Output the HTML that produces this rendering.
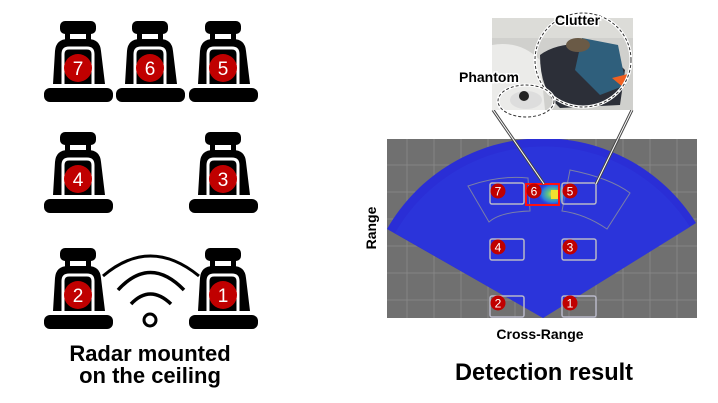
<!DOCTYPE html>
<html><head><meta charset="utf-8"><style>
html,body{margin:0;padding:0;background:#fff;}
svg{display:block;}
text{font-family:"Liberation Sans",sans-serif;font-weight:bold;}
</style></head><body>
<svg width="718" height="403" viewBox="0 0 718 403" xmlns="http://www.w3.org/2000/svg">
<defs>
<g id="seat">
  <rect x="-18" y="0" width="36" height="13" rx="5" fill="#000"/>
  <rect x="-13" y="12" width="5" height="8" fill="#000"/>
  <rect x="8" y="12" width="5" height="8" fill="#000"/>
  <path d="M-21,63 L-25,63 L-23,30 Q-22,18 -10,18 L10,18 Q22,18 23,30 L27,63 Z" fill="#000"/>
  <path d="M-15,63 L-15,33 Q-15,27 -9,27 L9,27 Q15,27 15,33 L15,63" fill="none" stroke="#fff" stroke-width="3"/>
  <rect x="-34" y="67" width="69" height="14" rx="6" fill="#000"/>
</g>
<clipPath id="pc"><rect x="387" y="139" width="310" height="179"/></clipPath>
<radialGradient id="hot" cx="0.5" cy="0.5" r="0.5">
  <stop offset="0" stop-color="#f4e02a"/><stop offset="0.35" stop-color="#5ac08a"/><stop offset="0.7" stop-color="#2a7ae0"/><stop offset="1" stop-color="#2a3ae0" stop-opacity="0"/>
</radialGradient>
</defs>

<g transform="translate(78,21)"><use href="#seat"/><circle cx="0" cy="47" r="14" fill="#c00000"/><text x="0" y="54" font-size="19" fill="#fff" text-anchor="middle" style="font-weight:normal">7</text></g>
<g transform="translate(150,21)"><use href="#seat"/><circle cx="0" cy="47" r="14" fill="#c00000"/><text x="0" y="54" font-size="19" fill="#fff" text-anchor="middle" style="font-weight:normal">6</text></g>
<g transform="translate(223,21)"><use href="#seat"/><circle cx="0" cy="47" r="14" fill="#c00000"/><text x="0" y="54" font-size="19" fill="#fff" text-anchor="middle" style="font-weight:normal">5</text></g>
<g transform="translate(78,132)"><use href="#seat"/><circle cx="0" cy="47" r="14" fill="#c00000"/><text x="0" y="54" font-size="19" fill="#fff" text-anchor="middle" style="font-weight:normal">4</text></g>
<g transform="translate(223,132)"><use href="#seat"/><circle cx="0" cy="47" r="14" fill="#c00000"/><text x="0" y="54" font-size="19" fill="#fff" text-anchor="middle" style="font-weight:normal">3</text></g>
<g transform="translate(78,248)"><use href="#seat"/><circle cx="0" cy="47" r="14" fill="#c00000"/><text x="0" y="54" font-size="19" fill="#fff" text-anchor="middle" style="font-weight:normal">2</text></g>
<g transform="translate(223,248)"><use href="#seat"/><circle cx="0" cy="47" r="14" fill="#c00000"/><text x="0" y="54" font-size="19" fill="#fff" text-anchor="middle" style="font-weight:normal">1</text></g>

<path d="M103,276 Q150,236 199,276" fill="none" stroke="#000" stroke-width="3"/>
<path d="M118,290 Q150,255 184,290" fill="none" stroke="#000" stroke-width="3.5"/>
<path d="M131,304 Q150,284 171,304" fill="none" stroke="#000" stroke-width="3.5"/>
<circle cx="150" cy="320" r="6" fill="none" stroke="#000" stroke-width="3"/>
<text x="150" y="361" font-size="22" text-anchor="middle" fill="#000">Radar mounted</text>
<text x="150" y="383" font-size="22" text-anchor="middle" fill="#000">on the ceiling</text>

<rect x="387" y="139" width="310" height="179" fill="#707070"/>
<g stroke="#8a8a8a" stroke-width="0.8">
  <line x1="407" y1="139" x2="407" y2="318"/><line x1="434" y1="139" x2="434" y2="318"/><line x1="461" y1="139" x2="461" y2="318"/><line x1="488" y1="139" x2="488" y2="318"/><line x1="515" y1="139" x2="515" y2="318"/><line x1="542" y1="139" x2="542" y2="318"/><line x1="569" y1="139" x2="569" y2="318"/><line x1="596" y1="139" x2="596" y2="318"/><line x1="623" y1="139" x2="623" y2="318"/><line x1="650" y1="139" x2="650" y2="318"/><line x1="677" y1="139" x2="677" y2="318"/>
  <line x1="387" y1="165" x2="697" y2="165"/><line x1="387" y1="192" x2="697" y2="192"/><line x1="387" y1="219" x2="697" y2="219"/><line x1="387" y1="246" x2="697" y2="246"/><line x1="387" y1="273" x2="697" y2="273"/><line x1="387" y1="300" x2="697" y2="300"/>
</g>
<g clip-path="url(#pc)">
<path d="M543,318 L387,229 A180,180 0 0 1 696,223 Z" fill="#2a2ed6"/>
<path d="M543,318 L395,233 A172,172 0 0 1 690,227 Z" fill="#2d38dc" opacity="0.6"/>
</g>
<path d="M468,186 Q500,175 528,178 L530,211 Q500,212 489,222 Z" fill="none" stroke="#7a7fa8" stroke-width="1"/>
<path d="M570,170 Q610,178 630,193 L607,229 Q585,214 562,211 Z" fill="none" stroke="#7a7fa8" stroke-width="1"/>
<ellipse cx="553" cy="194" rx="16" ry="12" fill="url(#hot)"/>
<rect x="551" y="190" width="8" height="9" fill="#f0e030"/>
<g fill="none" stroke="#b8b8c8" stroke-width="1.5">
  <rect x="490" y="183" width="34" height="21" rx="2"/>
  <rect x="562" y="183" width="34" height="21" rx="2"/>
  <rect x="490" y="239" width="34" height="21" rx="2"/>
  <rect x="562" y="239" width="34" height="21" rx="2"/>
  <rect x="490" y="296" width="34" height="21" rx="2"/>
  <rect x="562" y="296" width="34" height="21" rx="2"/>
</g>
<rect x="526" y="184" width="33" height="21" fill="none" stroke="#ff1010" stroke-width="2"/>
<g font-size="12" fill="#fff" text-anchor="middle">
<circle cx="498" cy="191" r="7.5" fill="#c00000"/><text x="498" y="195.5" style="font-weight:normal">7</text>
<circle cx="534" cy="191" r="7.5" fill="#c00000"/><text x="534" y="195.5" style="font-weight:normal">6</text>
<circle cx="570" cy="191" r="7.5" fill="#c00000"/><text x="570" y="195.5" style="font-weight:normal">5</text>
<circle cx="498" cy="247" r="7.5" fill="#c00000"/><text x="498" y="251.5" style="font-weight:normal">4</text>
<circle cx="570" cy="247" r="7.5" fill="#c00000"/><text x="570" y="251.5" style="font-weight:normal">3</text>
<circle cx="498" cy="303" r="7.5" fill="#c00000"/><text x="498" y="307.5" style="font-weight:normal">2</text>
<circle cx="570" cy="303" r="7.5" fill="#c00000"/><text x="570" y="307.5" style="font-weight:normal">1</text>
</g>

<line x1="493" y1="110" x2="544" y2="184" stroke="#444" stroke-width="3"/>
<line x1="493" y1="110" x2="544" y2="184" stroke="#fff" stroke-width="1"/>
<line x1="632" y1="110" x2="596" y2="184" stroke="#444" stroke-width="3"/>
<line x1="632" y1="110" x2="596" y2="184" stroke="#fff" stroke-width="1"/>

<rect x="492" y="18" width="141" height="92" fill="#d0d0cd"/>
<rect x="492" y="18" width="141" height="20" fill="#dcdcd8"/>
<path d="M492,45 Q520,40 540,60 L545,110 L492,110 Z" fill="#ebebe9"/>
<path d="M540,55 Q560,40 600,45 L625,70 L620,105 L560,108 Q540,90 540,55 Z" fill="#2c2f38"/>
<path d="M582,38 L618,45 L626,85 L600,95 L575,70 Z" fill="#2f5f7c"/>
<ellipse cx="578" cy="45" rx="12" ry="7" fill="#6a5a46"/>
<path d="M612,78 L628,74 L624,88 Z" fill="#f06020"/>
<ellipse cx="583" cy="60" rx="48" ry="47" fill="none" stroke="#fff" stroke-width="3"/>
<ellipse cx="583" cy="60" rx="48" ry="47" fill="none" stroke="#333" stroke-width="1" stroke-dasharray="3,2"/>
<ellipse cx="526" cy="100" rx="16" ry="9" fill="#ddd"/>
<circle cx="524" cy="96" r="5" fill="#222"/>
<ellipse cx="526" cy="101" rx="28" ry="16" fill="none" stroke="#fff" stroke-width="3"/>
<ellipse cx="526" cy="101" rx="28" ry="16" fill="none" stroke="#333" stroke-width="1" stroke-dasharray="3,2"/>
<text x="555" y="25" font-size="14" fill="#000" stroke="#fff" stroke-width="3" paint-order="stroke">Clutter</text>
<text x="459" y="82" font-size="14" fill="#000" stroke="#fff" stroke-width="3" paint-order="stroke">Phantom</text>

<text x="0" y="0" font-size="14" fill="#000" text-anchor="middle" transform="translate(376,228) rotate(-90)">Range</text>
<text x="540" y="339" font-size="14" fill="#000" text-anchor="middle">Cross-Range</text>
<text x="544" y="380" font-size="24" fill="#000" text-anchor="middle" textLength="178" lengthAdjust="spacingAndGlyphs">Detection result</text>
</svg>
</body></html>
